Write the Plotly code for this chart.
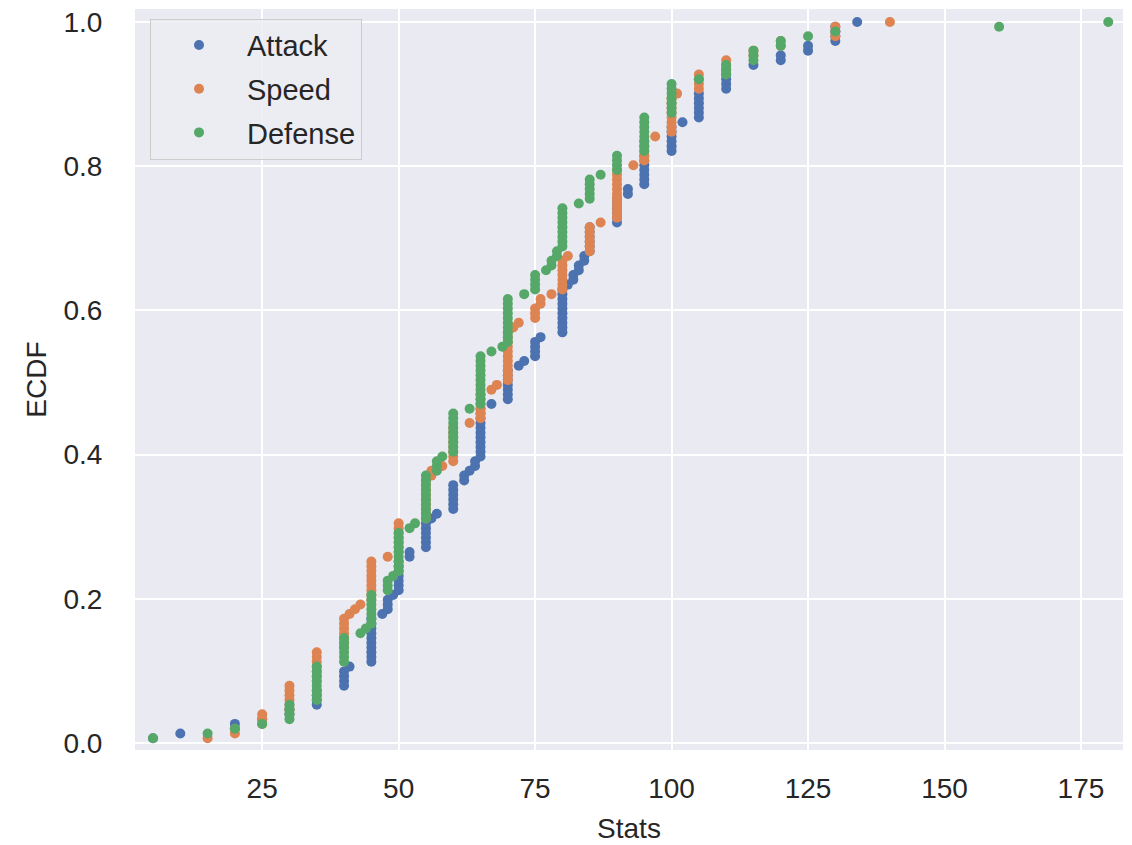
import pandas as pd
import plotly.express as px

# Base stats of the 151 first-generation Pokémon (read as matching the ECDF steps)
attack = [49, 62, 82, 52, 64, 84, 48, 63, 83, 30, 20, 45, 35, 25, 90, 45, 60, 80, 56, 81,
          60, 90, 60, 85, 55, 90, 75, 100, 47, 62, 92, 57, 72, 102, 45, 70, 41, 76, 45, 70,
          45, 80, 50, 65, 80, 70, 95, 55, 65, 55, 80, 45, 70, 52, 82, 80, 105, 70, 110, 50,
          65, 95, 20, 35, 50, 80, 100, 130, 75, 90, 105, 40, 70, 80, 95, 120, 85, 100, 65, 75,
          35, 60, 65, 85, 110, 45, 70, 80, 105, 65, 95, 35, 50, 65, 45, 48, 73, 105, 130, 30,
          50, 40, 95, 50, 80, 120, 105, 55, 65, 90, 85, 130, 5, 55, 95, 40, 65, 67, 92, 45,
          75, 45, 110, 50, 83, 95, 125, 100, 10, 125, 85, 48, 55, 65, 65, 130, 60, 40, 60, 80,
          115, 105, 110, 85, 90, 100, 64, 84, 134, 110, 100]
defense = [49, 63, 83, 43, 58, 78, 65, 80, 100, 35, 55, 50, 30, 50, 40, 40, 55, 75, 35, 60,
           30, 65, 44, 69, 40, 55, 85, 110, 52, 67, 87, 40, 57, 77, 48, 73, 40, 75, 20, 45,
           35, 70, 55, 70, 85, 55, 80, 50, 60, 25, 50, 35, 60, 48, 78, 35, 60, 45, 80, 40,
           65, 95, 15, 30, 45, 50, 70, 80, 35, 50, 65, 35, 65, 100, 115, 130, 55, 70, 65, 110,
           70, 95, 55, 45, 70, 55, 80, 50, 75, 100, 180, 30, 45, 60, 160, 45, 70, 90, 115, 50,
           70, 80, 85, 95, 110, 53, 79, 75, 95, 120, 95, 120, 5, 115, 80, 70, 95, 60, 65, 55,
           85, 65, 80, 35, 57, 57, 100, 95, 55, 79, 80, 48, 50, 60, 60, 60, 70, 100, 125, 90,
           105, 65, 65, 100, 85, 90, 45, 65, 95, 90, 100]
speed = [45, 60, 80, 65, 80, 100, 43, 58, 78, 45, 30, 70, 50, 35, 75, 56, 71, 101, 72, 97,
         70, 100, 55, 80, 90, 110, 40, 65, 41, 56, 76, 50, 65, 85, 35, 60, 65, 100, 20, 45,
         55, 90, 30, 40, 50, 25, 30, 45, 90, 95, 120, 90, 115, 55, 85, 70, 95, 60, 95, 90,
         90, 70, 90, 105, 120, 35, 45, 55, 40, 55, 70, 70, 100, 20, 35, 45, 90, 105, 15, 30,
         45, 70, 60, 75, 100, 45, 70, 25, 50, 40, 70, 80, 95, 110, 70, 42, 67, 50, 75, 100,
         140, 40, 55, 35, 45, 87, 76, 30, 35, 60, 25, 40, 50, 60, 90, 60, 85, 63, 68, 85,
         115, 90, 105, 95, 105, 93, 85, 110, 80, 81, 60, 48, 55, 65, 130, 65, 40, 35, 55, 55,
         80, 130, 30, 85, 100, 90, 50, 70, 80, 130, 100]

series_names = ["Attack", "Speed", "Defense"]
colors = ["#4C72B0", "#DD8452", "#55A868"]
x_ticks = [25, 50, 75, 100, 125, 150, 175]
y_ticks = [0.0, 0.2, 0.4, 0.6, 0.8, 1.0]

df = pd.DataFrame({"Attack": attack, "Speed": speed, "Defense": defense})

fig = px.ecdf(df, x=series_names, markers=True, lines=False,
              color_discrete_sequence=colors)
fig.update_traces(marker=dict(size=10, line=dict(width=0)))
fig.for_each_trace(lambda t: t.update(legendgroup=t.name))

font_family = "Arial, Liberation Sans, sans-serif"
fig.update_layout(
    width=1132, height=845,
    margin=dict(l=135, r=9, t=7, b=95),
    paper_bgcolor="white",
    plot_bgcolor="#EAEAF2",
    font=dict(family=font_family, size=28, color="#262626"),
    legend=dict(
        title_text="",
        x=0.0152, y=0.987, xanchor="left", yanchor="top",
        bgcolor="rgba(236,236,243,0.85)",
        bordercolor="#CCCCCC", borderwidth=1,
        font=dict(size=29, color="#262626"),
        itemwidth=86,
        tracegroupgap=3,
    ),
    showlegend=True,
)
fig.update_xaxes(
    title_text="Stats", title_font=dict(size=28),
    range=[1.7, 182.7], tickvals=x_ticks,
    showgrid=True, gridcolor="white", gridwidth=2,
    zeroline=False, showline=False,
    ticks="outside", ticklen=13, tickcolor="rgba(0,0,0,0)",
    title_standoff=15,
)
fig.update_yaxes(
    title_text="ECDF", title_font=dict(size=28),
    range=[-0.0097, 1.018], tickvals=y_ticks, tickformat=".1f",
    showgrid=True, gridcolor="white", gridwidth=2,
    zeroline=False, showline=False,
    ticks="outside", ticklen=26, tickcolor="rgba(0,0,0,0)",
    title_standoff=8,
)

fig.write_html("out.html")
